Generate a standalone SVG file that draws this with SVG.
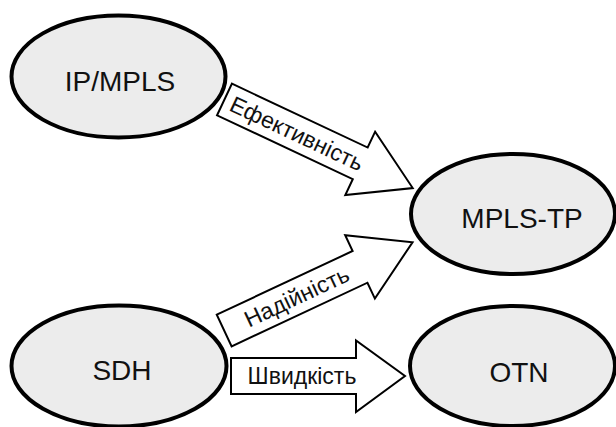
<svg xmlns="http://www.w3.org/2000/svg" width="616" height="427" viewBox="0 0 616 427">
<style>
.node{fill:#ececec;stroke:#000;stroke-width:4}
.lbl{font-family:"Liberation Sans",Arial,sans-serif;font-size:28px;fill:#111;text-anchor:middle}
.arr{fill:#fff;stroke:#000;stroke-width:2;stroke-linejoin:miter}
.alb{font-family:"Liberation Sans",Arial,sans-serif;font-size:23px;fill:#111;text-anchor:middle}
</style>
<defs>
<polygon id="diag" points="0,-17.5 150,-17.5 150,-35 208,0 150,35 150,17.5 0,17.5"/>
</defs>
<rect width="616" height="427" fill="#fff"/>
<g id="connectors">
<g id="edge-efektyvnist" transform="translate(224.5,99.5) rotate(25.2)">
<use href="#diag" class="arr"/>
<text class="alb" x="80" y="8">Ефективність</text>
</g>
<g id="edge-nadiinist" transform="translate(224.2,330.5) rotate(-25.1)">
<use href="#diag" class="arr"/>
<text class="alb" x="80" y="8">Надійність</text>
</g>
<g id="edge-shvydkist">
<polygon class="arr" points="231,358 356,358 356,340.5 405,376 356,412 356,394 231,394"/>
<text class="alb" x="302" y="384">Швидкість</text>
</g>
</g>
<g id="node-ipmpls">
<ellipse class="node" cx="118.5" cy="76.5" rx="107" ry="61"/>
<text class="lbl" x="120" y="91">IP/MPLS</text>
</g>
<g id="node-mplstp">
<ellipse class="node" cx="513" cy="214" rx="102" ry="60"/>
<text class="lbl" x="522" y="228">MPLS-TP</text>
</g>
<g id="node-sdh">
<ellipse class="node" cx="119" cy="366" rx="107.5" ry="60.5"/>
<text class="lbl" x="122" y="380">SDH</text>
</g>
<g id="node-otn">
<ellipse class="node" cx="512.5" cy="366" rx="102.5" ry="60"/>
<text class="lbl" x="519" y="382">OTN</text>
</g>
</svg>
